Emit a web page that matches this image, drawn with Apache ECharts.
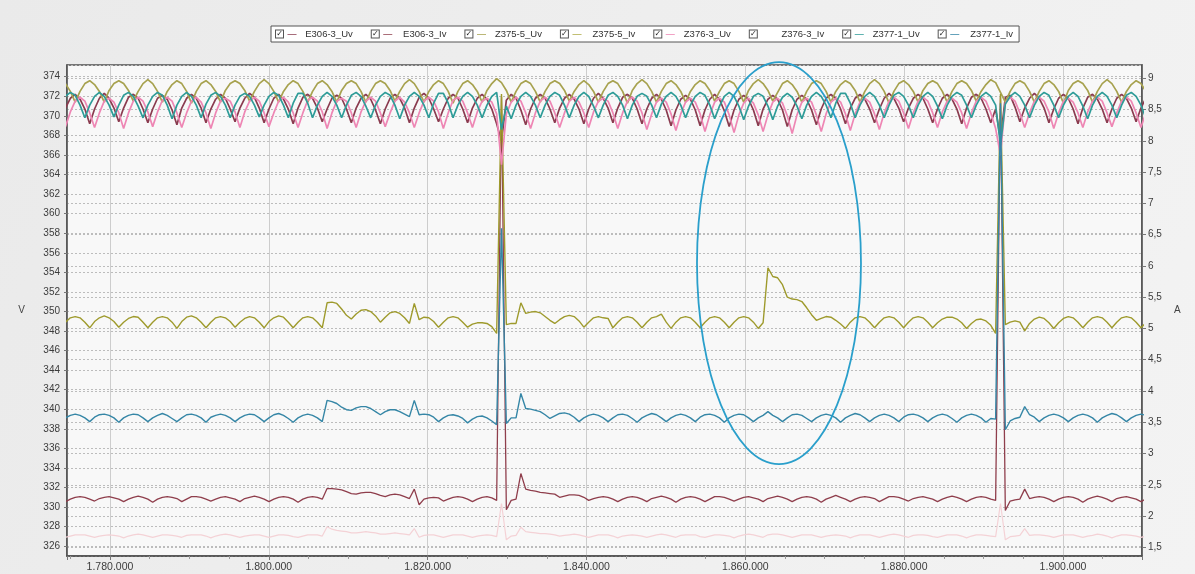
<!DOCTYPE html>
<html><head><meta charset="utf-8">
<script src="https://cdn.jsdelivr.net/npm/echarts@6/dist/echarts.min.js"></script>
<style>html,body{margin:0;padding:0;background:#ededed;}#c{width:1195px;height:574px;}</style>
</head><body><div id="c"></div>
<script>
// ---------- DATA ----------
const seriesNames = ['E306-3_Uv','E306-3_Iv','Z375-5_Uv','Z375-5_Iv','Z376-3_Uv','Z376-3_Iv','Z377-1_Uv','Z377-1_Iv'];
const time = [
1774400,1775010,1775620,1776230,1776840,1777450,1778060,1778670,1779280,1779890,
1780500,1781110,1781720,1782330,1782940,1783550,1784160,1784770,1785380,1785990,
1786600,1787210,1787820,1788430,1789040,1789650,1790260,1790870,1791480,1792090,
1792700,1793310,1793920,1794530,1795140,1795750,1796360,1796970,1797580,1798190,
1798800,1799410,1800020,1800630,1801240,1801850,1802460,1803070,1803680,1804290,
1804900,1805510,1806120,1806730,1807340,1807950,1808560,1809170,1809780,1810390,
1811000,1811610,1812220,1812830,1813440,1814050,1814660,1815270,1815880,1816490,
1817100,1817710,1818320,1818930,1819540,1820150,1820760,1821370,1821980,1822590,
1823200,1823810,1824420,1825030,1825640,1826250,1826860,1827470,1828080,1828690,
1829300,1829910,1830520,1831130,1831740,1832350,1832960,1833570,1834180,1834790,
1835400,1836010,1836620,1837230,1837840,1838450,1839060,1839670,1840280,1840890,
1841500,1842110,1842720,1843330,1843940,1844550,1845160,1845770,1846380,1846990,
1847600,1848210,1848820,1849430,1850040,1850650,1851260,1851870,1852480,1853090,
1853700,1854310,1854920,1855530,1856140,1856750,1857360,1857970,1858580,1859190,
1859800,1860410,1861020,1861630,1862240,1862850,1863460,1864070,1864680,1865290,
1865900,1866510,1867120,1867730,1868340,1868950,1869560,1870170,1870780,1871390,
1872000,1872610,1873220,1873830,1874440,1875050,1875660,1876270,1876880,1877490,
1878100,1878710,1879320,1879930,1880540,1881150,1881760,1882370,1882980,1883590,
1884200,1884810,1885420,1886030,1886640,1887250,1887860,1888470,1889080,1889690,
1890300,1890910,1891520,1892130,1892740,1893350,1893960,1894570,1895180,1895790,
1896400,1897010,1897620,1898230,1898840,1899450,1900060,1900670,1901280,1901890,
1902500,1903110,1903720,1904330,1904940,1905550,1906160,1906770,1907380,1907990,
1908600,1909210,1909820,1910430];

const e306Uv = [
370.8,371.8,372.2,371.7,370.7,369.2, 370.7,371.8,372.3,371.8,370.8,369.4,
370.8,371.9,372.2,371.8,370.7,369.3, 370.7,371.8,372.1,371.7,370.6,369.1,
370.8,371.8,372.2,371.8,370.8,369.3, 370.7,371.7,372.2,371.8,370.7,369.4,
370.8,371.8,372.3,371.9,370.8,369.3, 370.7,371.8,372.2,371.7,370.7,369.2,
370.8,371.9,372.2,371.8,370.8,369.4, 370.7,371.8,372.1,371.8,370.7,369.3,
370.8,371.8,372.2,371.7,370.6,369.2, 370.7,371.8,372.2,371.8,370.8,369.3,
370.8,371.9,372.3,371.8,370.7,369.4, 370.7,371.8,372.2,371.8,370.7,369.3,
370.8,371.8,372.2,371.7,370.7,369.2, 367.4,371.6,372.2,371.8,370.6,369.1,
370.7,371.8,372.2,371.8,370.7,369.3, 370.8,371.8,372.2,371.7,370.7,369.2,
370.7,371.8,372.3,371.8,370.8,369.3, 370.8,371.9,372.2,371.8,370.7,369.2,
370.7,371.8,372.2,371.7,370.6,369.0, 370.6,371.7,372.1,371.7,370.6,369.0,
370.6,371.7,372.2,371.7,370.5,368.9, 370.6,371.7,372.1,371.7,370.6,369.0,
370.7,371.7,372.1,371.7,370.6,368.9, 370.6,371.7,372.1,371.7,370.6,369.1,
370.7,371.8,372.2,371.8,370.7,369.2, 370.8,371.8,372.2,371.7,370.7,369.3,
370.7,371.8,372.3,371.8,370.8,369.4, 370.8,371.8,372.2,371.8,370.7,369.3,
370.7,371.8,372.2,371.7,370.7,369.2, 370.8,371.9,372.2,371.8,370.7,369.3,
370.7,367.6,371.9,372.1,370.9,369.4, 370.8,371.8,372.3,371.8,370.8,369.3,
370.7,371.8,372.2,371.8,370.7,369.2, 370.8,371.9,372.2,371.7,370.7,369.3,
370.7,371.8,372.2,371.8,370.8,369.4, 370.8,371.8];

const e306Iv = [
2.23,2.27,2.30,2.31,2.30,2.27, 2.24,2.28,2.30,2.31,2.29,2.27,
2.23,2.27,2.30,2.32,2.30,2.27, 2.22,2.27,2.30,2.31,2.30,2.28,
2.23,2.27,2.31,2.31,2.30,2.27, 2.24,2.27,2.30,2.31,2.29,2.27,
2.23,2.28,2.30,2.32,2.30,2.27, 2.23,2.27,2.30,2.31,2.30,2.27,
2.22,2.27,2.30,2.31,2.30,2.27, 2.44,2.44,2.43,2.42,2.39,2.36,
2.35,2.37,2.38,2.38,2.36,2.33, 2.31,2.34,2.35,2.34,2.31,2.28,
2.43,2.18,2.27,2.29,2.30,2.29, 2.24,2.27,2.30,2.31,2.30,2.27,
2.23,2.27,2.30,2.31,2.29,2.25, 8.70,2.10,2.25,2.27,2.68,2.43,
2.41,2.40,2.38,2.37,2.36,2.35, 2.30,2.32,2.34,2.34,2.33,2.30,
2.25,2.28,2.30,2.31,2.30,2.27, 2.23,2.27,2.30,2.31,2.30,2.27,
2.23,2.28,2.30,2.32,2.30,2.27, 2.22,2.27,2.30,2.31,2.30,2.27,
2.23,2.27,2.31,2.31,2.30,2.27, 2.24,2.27,2.30,2.31,2.29,2.27,
2.23,2.28,2.30,2.32,2.30,2.27, 2.23,2.27,2.30,2.31,2.30,2.27,
2.22,2.27,2.30,2.33,2.30,2.27, 2.23,2.27,2.30,2.31,2.30,2.28,
2.23,2.27,2.31,2.31,2.30,2.27, 2.24,2.28,2.30,2.31,2.29,2.27,
2.23,2.27,2.30,2.32,2.30,2.27, 2.23,2.27,2.30,2.31,2.30,2.27,
2.25,8.70,2.09,2.24,2.26,2.27, 2.43,2.28,2.30,2.31,2.30,2.27,
2.23,2.27,2.30,2.31,2.30,2.27, 2.22,2.27,2.30,2.32,2.30,2.27,
2.23,2.28,2.30,2.31,2.29,2.27, 2.23,2.27];

const z375Uv = [
373.3,372.5,371.4,372.5,373.3,373.6, 373.2,372.5,371.4,372.6,373.3,373.6,
373.3,372.6,371.5,372.5,373.3,373.7, 373.3,372.5,371.4,372.5,373.2,373.6,
373.3,372.5,371.3,372.5,373.3,373.6, 373.2,372.5,371.4,372.6,373.3,373.6,
373.3,372.6,371.5,372.5,373.3,373.7, 373.3,372.5,371.4,372.5,373.2,373.6,
373.3,372.5,371.4,372.5,373.3,373.6, 373.2,372.5,371.4,372.6,373.3,373.6,
373.3,372.5,371.4,372.5,373.3,373.6, 373.3,372.6,371.5,372.5,373.3,373.7,
373.3,372.5,371.4,372.5,373.2,373.6, 373.3,372.5,371.3,372.5,373.3,373.6,
373.2,372.5,371.4,372.6,373.3,373.8, 373.4,372.6,371.4,372.5,373.3,373.6,
373.3,372.5,371.4,372.5,373.3,373.6, 373.3,372.6,371.5,372.5,373.2,373.6,
373.2,372.5,371.4,372.5,373.3,373.6, 373.3,372.5,371.3,372.6,373.3,373.7,
373.3,372.5,371.4,372.5,373.3,373.6, 373.2,372.5,371.4,372.5,373.2,373.6,
373.3,372.6,371.5,372.5,373.3,373.6, 373.3,372.5,371.4,372.6,373.3,373.7,
373.3,372.6,371.5,372.4,373.3,373.6, 373.2,372.5,371.4,372.5,373.3,373.6,
373.3,372.5,371.4,372.5,373.2,373.6, 373.3,372.6,371.4,372.5,373.3,373.7,
373.3,372.5,371.3,372.5,373.3,373.6, 373.2,372.5,371.4,372.6,373.3,373.6,
373.3,372.5,371.4,372.5,373.3,373.6, 373.3,372.6,371.5,372.5,373.2,373.7,
373.4,372.4,371.4,372.5,373.3,373.6, 373.3,372.5,371.4,372.5,373.3,373.6,
373.2,372.5,371.3,372.6,373.3,373.6, 373.3,372.6,371.4,372.5,373.3,373.7,
373.3,372.5,371.4,372.5,373.2,373.6, 373.3,372.5];

const z375Iv = [
5.10,5.17,5.19,5.17,5.10,5.01, 5.11,5.17,5.20,5.17,5.11,5.02,
5.10,5.16,5.19,5.18,5.10,5.01, 5.10,5.17,5.19,5.17,5.10,5.00,
5.11,5.18,5.20,5.17,5.10,5.01, 5.10,5.17,5.19,5.17,5.11,5.02,
5.10,5.16,5.19,5.17,5.10,5.01, 5.11,5.17,5.20,5.18,5.10,5.01,
5.10,5.17,5.19,5.17,5.10,5.01, 5.41,5.42,5.40,5.31,5.21,5.15,
5.23,5.29,5.30,5.27,5.20,5.10, 5.18,5.25,5.27,5.24,5.17,5.08,
5.40,5.14,5.18,5.17,5.11,5.02, 5.10,5.17,5.19,5.17,5.10,5.02,
5.07,5.09,5.09,5.08,5.03,4.92, 8.75,5.06,5.08,5.08,5.41,5.24,
5.26,5.27,5.25,5.19,5.13,5.08, 5.14,5.19,5.21,5.19,5.12,5.02,
5.10,5.17,5.19,5.17,5.16,5.01, 5.10,5.17,5.19,5.17,5.10,5.01,
5.10,5.17,5.19,5.23,5.10,5.00, 5.10,5.17,5.19,5.17,5.10,5.01,
5.10,5.17,5.19,5.17,5.10,5.01, 5.10,5.17,5.19,5.17,5.10,5.00,
5.09,5.97,5.83,5.81,5.70,5.50, 5.47,5.46,5.43,5.33,5.22,5.13,
5.16,5.19,5.18,5.13,5.07,5.00, 5.10,5.17,5.19,5.17,5.10,5.01,
5.10,5.17,5.19,5.17,5.10,5.01, 5.10,5.17,5.19,5.17,5.10,5.01,
5.09,5.15,5.18,5.18,5.15,5.09, 5.00,5.08,5.14,5.15,5.12,5.05,
4.92,8.75,5.06,5.10,5.12,5.10, 4.96,5.08,5.15,5.18,5.16,5.09,
5.00,5.09,5.16,5.19,5.17,5.10, 5.01,5.10,5.17,5.19,5.17,5.10,
5.01,5.10,5.17,5.19,5.17,5.10, 5.01,5.09];

const z376Uv = [
368.9,370.4,371.5,371.9,371.5,370.3, 368.8,370.3,371.5,371.8,371.4,370.3,
368.7,370.3,371.5,371.9,371.5,370.4, 368.9,370.4,371.6,371.9,371.5,370.3,
368.8,370.3,371.5,371.9,371.4,370.3, 368.7,370.3,371.5,371.8,371.5,370.4,
368.8,370.4,371.5,371.9,371.5,370.3, 368.9,370.3,371.5,371.9,371.4,370.3,
368.8,370.3,371.6,371.9,371.5,370.4, 368.7,370.3,371.5,371.8,371.5,370.3,
368.8,370.4,371.5,371.9,371.5,370.3, 368.9,370.3,371.5,371.9,371.4,370.3,
368.8,370.3,371.5,371.9,371.5,370.4, 368.7,370.3,371.6,371.9,371.5,370.3,
368.8,370.4,371.5,371.8,371.4,370.2, 365.0,370.2,371.4,371.9,371.5,370.3,
368.7,370.3,371.5,371.9,371.5,370.3, 368.8,370.3,371.5,371.9,371.4,370.3,
368.8,370.4,371.5,371.8,371.5,370.3, 368.7,370.3,371.5,371.9,371.5,370.3,
368.6,370.2,371.4,371.8,371.4,370.2, 368.5,370.2,371.4,371.8,371.4,370.2,
368.4,370.1,371.4,371.8,371.4,370.1, 368.3,370.1,371.3,371.8,371.3,370.1,
368.4,370.1,371.4,371.8,371.3,370.0, 368.2,370.1,371.4,371.8,371.4,370.1,
368.4,370.2,371.4,371.8,371.4,370.2, 368.5,370.2,371.4,371.8,371.4,370.2,
368.6,370.3,371.5,371.9,371.5,370.3, 368.7,370.3,371.5,371.9,371.5,370.3,
368.8,370.4,371.5,371.8,371.4,370.3, 368.7,370.3,371.5,371.9,371.5,370.3,
368.7,366.0,371.3,371.9,371.5,370.3, 368.8,370.3,371.5,371.9,371.5,370.4,
368.7,370.3,371.5,371.8,371.4,370.3, 368.8,370.4,371.5,371.9,371.5,370.3,
368.9,370.3,371.5,371.9,371.5,370.3, 368.8,370.3];

const z376Iv = [
1.66,1.68,1.70,1.70,1.70,1.68, 1.66,1.68,1.69,1.70,1.69,1.68,
1.65,1.68,1.70,1.71,1.70,1.68, 1.66,1.68,1.70,1.70,1.69,1.68,
1.66,1.69,1.70,1.70,1.70,1.68, 1.65,1.68,1.70,1.71,1.70,1.68,
1.66,1.68,1.69,1.70,1.70,1.68, 1.66,1.68,1.70,1.70,1.69,1.67,
1.66,1.68,1.70,1.70,1.70,1.68, 1.83,1.79,1.77,1.76,1.75,1.73,
1.73,1.74,1.75,1.74,1.73,1.71, 1.71,1.72,1.73,1.72,1.71,1.70,
1.80,1.66,1.69,1.70,1.70,1.68, 1.66,1.68,1.70,1.70,1.70,1.68,
1.66,1.68,1.69,1.70,1.69,1.67, 2.20,1.62,1.68,1.69,1.82,1.75,
1.74,1.73,1.72,1.72,1.71,1.70, 1.68,1.69,1.70,1.71,1.70,1.68,
1.66,1.68,1.70,1.70,1.70,1.68, 1.65,1.68,1.69,1.70,1.69,1.68,
1.66,1.68,1.70,1.71,1.70,1.68, 1.66,1.69,1.70,1.70,1.70,1.67,
1.66,1.68,1.70,1.70,1.69,1.68, 1.65,1.68,1.70,1.71,1.70,1.68,
1.66,1.70,1.71,1.71,1.70,1.68, 1.66,1.68,1.70,1.70,1.70,1.68,
1.66,1.68,1.69,1.70,1.69,1.68, 1.65,1.68,1.70,1.70,1.70,1.68,
1.66,1.68,1.70,1.71,1.70,1.68, 1.66,1.69,1.70,1.70,1.69,1.67,
1.66,1.68,1.70,1.70,1.70,1.68, 1.65,1.68,1.70,1.70,1.69,1.68,
1.67,2.20,1.62,1.67,1.68,1.69, 1.80,1.69,1.70,1.70,1.69,1.68,
1.66,1.68,1.70,1.70,1.70,1.68, 1.66,1.68,1.69,1.71,1.70,1.68,
1.65,1.68,1.70,1.70,1.69,1.68, 1.66,1.68];

const z377Uv = [
372.0,372.4,372.1,371.1,369.8,371.1, 372.0,372.4,372.0,371.1,369.9,371.1,
372.1,372.4,372.0,371.0,369.8,371.1, 372.0,372.4,372.1,371.1,369.7,371.1,
372.0,372.4,372.0,371.1,369.8,371.2, 372.1,372.4,372.0,371.1,369.8,371.1,
372.0,372.3,372.0,371.1,369.9,371.1, 372.0,372.4,372.1,371.1,369.8,371.3,
372.3,372.3,371.3,369.8,371.1,372.0, 372.4,372.0,371.1,369.8,371.1,372.1,
372.4,372.0,371.0,369.8,371.1,372.0, 372.4,372.1,371.1,369.7,371.1,372.0,
372.4,372.0,371.1,369.8,371.3,372.3, 372.3,371.3,369.8,371.1,372.0,372.4,
372.0,371.1,369.8,371.1,372.0,372.4, 368.6,371.0,369.7,371.1,372.0,372.4,
372.0,371.1,369.8,371.1,372.0,372.4, 372.1,371.1,369.8,371.1,372.0,372.4,
372.0,371.0,369.8,371.1,372.1,372.4, 372.0,371.1,369.7,371.1,372.0,372.3,
372.0,371.1,369.8,371.2,372.0,372.4, 372.0,371.1,369.8,371.1,372.0,372.4,
372.1,371.1,369.7,371.0,372.0,372.4, 372.0,371.0,369.6,371.0,372.0,372.3,
372.0,371.0,369.6,371.0,371.9,372.3, 371.9,371.0,369.7,371.1,372.0,372.4,
372.0,371.1,369.8,371.3,372.3,372.3, 371.3,369.8,371.1,372.0,372.4,372.0,
371.1,369.8,371.1,372.1,372.4,372.0, 371.1,369.8,371.1,372.0,372.4,372.0,
371.0,369.7,371.1,372.0,372.4,372.1, 371.1,369.8,371.1,372.0,372.4,372.0,
371.1,367.0,371.2,372.0,372.4,372.0, 371.1,369.8,371.1,372.0,372.4,372.1,
371.1,369.8,371.1,372.0,372.4,372.0, 371.0,369.7,371.1,372.0,372.4,372.0,
371.1,369.8,371.1,372.1,372.4,372.0, 371.1,369.8];

const z377Iv = [
3.57,3.61,3.63,3.61,3.57,3.51, 3.58,3.62,3.63,3.61,3.57,3.50,
3.57,3.61,3.63,3.62,3.57,3.51, 3.57,3.61,3.64,3.61,3.56,3.51,
3.57,3.62,3.63,3.61,3.57,3.50, 3.58,3.61,3.63,3.61,3.57,3.51,
3.57,3.61,3.63,3.62,3.57,3.51, 3.57,3.62,3.64,3.61,3.56,3.50,
3.57,3.61,3.63,3.61,3.57,3.51, 3.85,3.83,3.80,3.74,3.70,3.69,
3.73,3.75,3.75,3.72,3.67,3.62, 3.67,3.70,3.70,3.67,3.63,3.59,
3.85,3.62,3.63,3.62,3.58,3.51, 3.57,3.61,3.62,3.60,3.56,3.49,
3.55,3.59,3.60,3.57,3.52,3.46, 6.60,3.48,3.57,3.57,3.96,3.72,
3.71,3.69,3.67,3.62,3.56,3.60, 3.64,3.65,3.63,3.58,3.51,3.57,
3.61,3.63,3.61,3.57,3.51,3.57, 3.62,3.63,3.61,3.56,3.50,3.57,
3.61,3.64,3.62,3.57,3.51,3.57, 3.61,3.63,3.61,3.57,3.51,3.58,
3.62,3.63,3.61,3.57,3.50,3.57, 3.61,3.63,3.62,3.57,3.51,3.57,
3.61,3.67,3.61,3.57,3.51,3.57, 3.62,3.63,3.61,3.56,3.51,3.57,
3.61,3.63,3.61,3.57,3.50,3.57, 3.61,3.64,3.62,3.57,3.51,3.57,
3.61,3.63,3.61,3.57,3.51,3.58, 3.62,3.63,3.61,3.57,3.51,3.57,
3.61,3.63,3.61,3.56,3.50,3.57, 3.61,3.63,3.61,3.57,3.50,3.56,
3.55,8.60,3.38,3.52,3.56,3.58, 3.75,3.62,3.58,3.51,3.57,3.61,
3.63,3.61,3.57,3.51,3.57,3.61, 3.63,3.61,3.57,3.50,3.57,3.61,
3.64,3.62,3.57,3.51,3.57,3.61, 3.63,3.61];

// annotation ellipse (data coordinates on the V axis): center and radii
const ellipseCenter = [1864240, 354.95];
const ellipseRadius = [10325, 20.55];

// ---------- STYLE ----------
const seriesData = [e306Uv, e306Iv, z375Uv, z375Iv, z376Uv, z376Iv, z377Uv, z377Iv];
const seriesAxis = [0,1,0,1,0,1,0,1];
const seriesColor = ['#8a3b4f','#8f3e4c','#a7a24f','#9e9a2c','#ee86b4','#f4d2d6','#2e9c98','#3586a6'];
const legendSample = ['#8a3b4f','#8f3e4c','#a7a24f','#b0ad4a','#ee86b4','#ffffff','#2e9c98','#3586a6'];
const seriesWidth = [1.7,1.3,1.7,1.4,1.7,1.2,1.7,1.4];

seriesData.forEach((d,k)=>{ if(d.length!==time.length) throw new Error(seriesNames[k]+' length '+d.length+' vs '+time.length); });

const chart = echarts.init(document.getElementById('c'), null, {renderer:'canvas'});

const rich = {
  cb:{width:7,height:7,lineHeight:9,borderColor:'#555',borderWidth:1,backgroundColor:'#fff',align:'center',fontSize:8,color:'#222',fontFamily:'DejaVu Sans',padding:[0,0,0,0]},
  t:{fontSize:9.5,color:'#333',fontFamily:'Liberation Sans',width:62}
};
legendSample.forEach((c,k)=>{ rich['l'+k] = {fontSize:10,color:c,fontFamily:'DejaVu Sans',width:12,align:'center',padding:[0,0,0,3]}; });

const thousands = v => String(Math.round(v)).replace(/\B(?=(\d{3})+(?!\d))/g,'.');

const option = {
  animation:false,
  backgroundColor:{type:'linear',x:0,y:0,x2:1,y2:1,colorStops:[{offset:0,color:'#eaeaea'},{offset:1,color:'#f3f3f3'}]},
  legend:{
    data:seriesNames, left:271, top:26, icon:'none', itemWidth:0, itemHeight:10, itemGap:14,
    padding:[3,6,3,0], backgroundColor:'#ffffff', borderColor:'#555', borderWidth:1, borderRadius:0,
    selectedMode:false,
    formatter: name => { const k = seriesNames.indexOf(name); return '{cb|✓}{l'+k+'|—}{t|'+name+'}'; },
    textStyle:{rich:rich}
  },
  grid:{left:67,right:53,top:65,bottom:18,show:true,borderColor:'#4f4f4f',borderWidth:1.5,
        backgroundColor:'#f8f8f8',containLabel:false,outerBoundsMode:'none'},
  xAxis:{
    type:'value', min:1774590, max:1909950, splitNumber:7,
    axisLine:{show:true,lineStyle:{color:'#4f4f4f',width:1.5}},
    axisTick:{show:true,length:4,lineStyle:{color:'#777'}},
    minorTick:{show:true,splitNumber:4,length:3,lineStyle:{color:'#999'}},
    axisLabel:{showMinLabel:false,showMaxLabel:false,color:'#3c3c3c',fontSize:10.5,fontFamily:'Liberation Sans',margin:6,formatter:thousands},
    splitLine:{show:true,lineStyle:{color:'#cdcdcd',width:1}}
  },
  yAxis:[{
    type:'value', min:325, max:375.2, splitNumber:25, position:'left',
    name:'V', nameLocation:'middle', nameRotate:0, nameGap:42,
    nameTextStyle:{color:'#444',fontSize:10,fontFamily:'Liberation Sans'},
    axisLine:{show:true,lineStyle:{color:'#4f4f4f',width:1.5}},
    axisTick:{show:true,length:3,lineStyle:{color:'#777'}},
    axisLabel:{showMinLabel:false,showMaxLabel:false,color:'#3c3c3c',fontSize:10,fontFamily:'Liberation Sans',margin:7},
    splitLine:{show:true,lineStyle:{color:'#bcbcbc',width:1,type:[2,2]}}
  },{
    type:'value', min:1.361, max:9.2127, splitNumber:16, position:'right',
    name:'A', nameLocation:'middle', nameRotate:0, nameGap:32,
    nameTextStyle:{color:'#444',fontSize:10,fontFamily:'Liberation Sans'},
    axisLine:{show:true,lineStyle:{color:'#4f4f4f',width:1.5}},
    axisTick:{show:true,length:4,lineStyle:{color:'#777'}},
    axisLabel:{showMinLabel:false,showMaxLabel:false,color:'#3c3c3c',fontSize:10,fontFamily:'Liberation Sans',margin:6,
               formatter:v=>String(v).replace('.',',')},
    splitLine:{show:true,lineStyle:{color:'#bcbcbc',width:1,type:[2,2]}}
  }],
  series: seriesNames.map((n,k)=>({
    name:n, type:'line', yAxisIndex:seriesAxis[k], showSymbol:false, symbol:'none',
    z: k===5 ? 1 : 2, clip:true,
    lineStyle:{color:seriesColor[k],width:seriesWidth[k]}, itemStyle:{color:seriesColor[k]},
    data: time.map((t,i)=>[t, seriesData[k][i]])
  }))
};
chart.setOption(option);

const c0 = chart.convertToPixel({xAxisIndex:0,yAxisIndex:0},[ellipseCenter[0],ellipseCenter[1]]);
const c1 = chart.convertToPixel({xAxisIndex:0,yAxisIndex:0},[ellipseCenter[0]+ellipseRadius[0],ellipseCenter[1]+ellipseRadius[1]]);
chart.setOption({graphic:[{type:'ellipse',z:100,silent:true,
  shape:{cx:c0[0],cy:c0[1],rx:Math.abs(c1[0]-c0[0]),ry:Math.abs(c0[1]-c1[1])},
  style:{fill:'none',stroke:'#2a9fcb',lineWidth:1.8}}]});
</script>
</body></html>
